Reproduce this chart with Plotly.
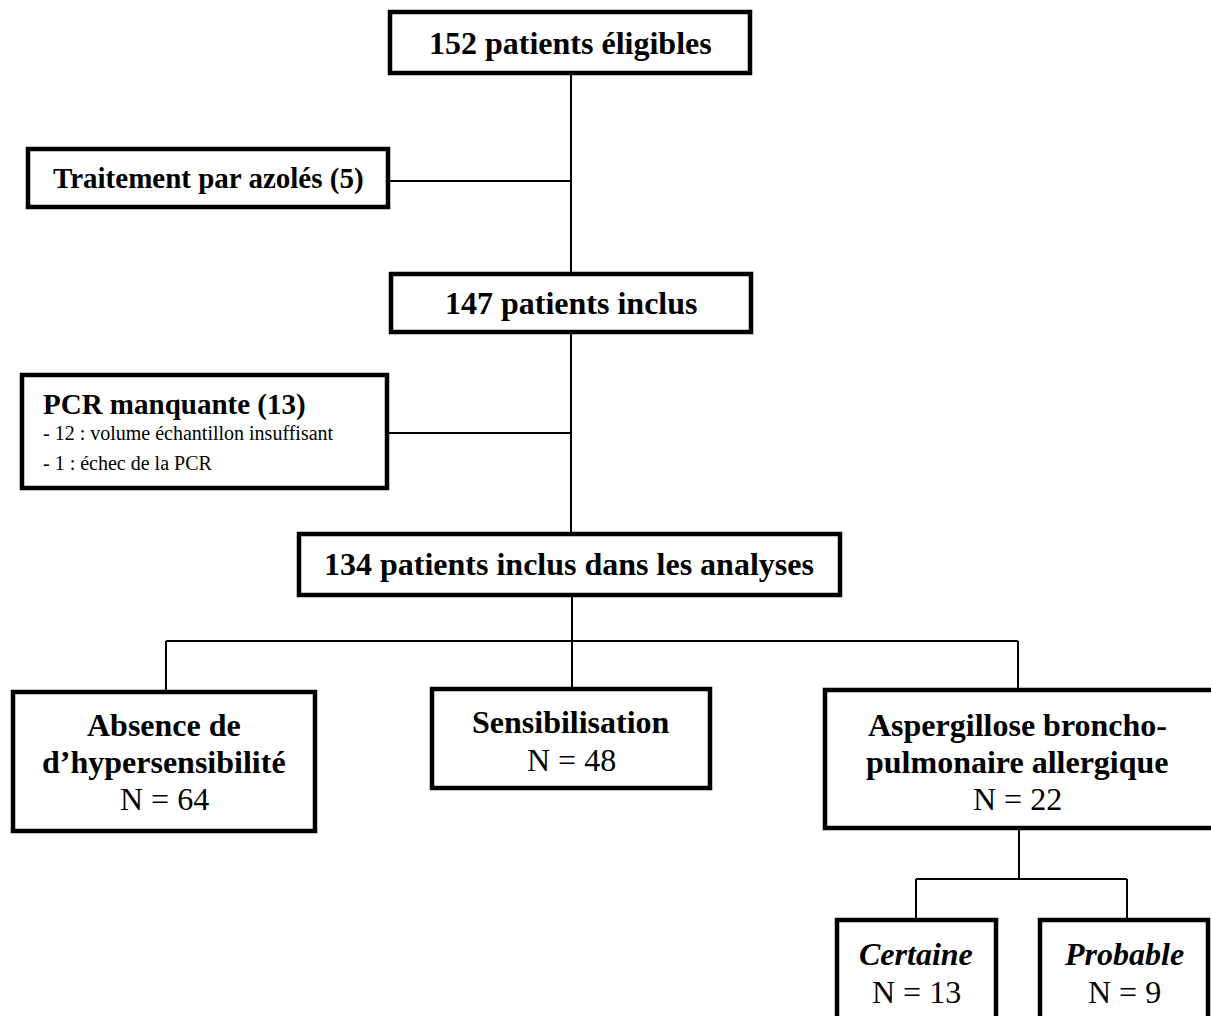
import plotly.graph_objects as go

# flowchart counts
n_eligible = 152
n_azole = 5
n_included = 147
n_pcr_missing = 13
pcr_reasons = ["volume échantillon insuffisant", "échec de la PCR"]
pcr_reason_n = [12, 1]
n_analysed = 134
group_labels = [["Absence de", "d’hypersensibilité"], ["Sensibilisation"],
                ["Aspergillose broncho-", "pulmonaire allergique"]]
group_n = [64, 48, 22]
abpa_labels = ["Certaine", "Probable"]
abpa_n = [13, 9]

W, H = 1211, 1016
FONT = "Liberation Serif, Times New Roman, serif"

# box geometry (x0, y0, x1, y1) in pixel-like coords, y downwards
box_eligible = (390, 12, 750, 73)
box_azole = (28, 149, 388, 207)
box_included = (391, 274, 751, 332)
box_pcr = (22, 375, 387, 488)
box_analysed = (299, 534, 840, 595)
box_groups = [(13, 692, 315, 831), (432, 689, 710, 788), (825, 690, 1216, 828)]
box_abpa = [(837, 920, 996, 1022), (1040, 920, 1208, 1022)]

fig = go.Figure()


def box(b):
    fig.add_shape(type="rect", x0=b[0], y0=b[1], x1=b[2], y1=b[3],
                  line=dict(color="black", width=4.5), fillcolor="white", layer="above")


def seg(x0, y0, x1, y1):
    fig.add_shape(type="line", x0=x0, y0=y0, x1=x1, y1=y1,
                  line=dict(color="black", width=2), layer="below")


def txt(s, x, y, size=32, anchor="center"):
    fig.add_annotation(x=x, y=y, text=s, showarrow=False, xanchor=anchor, yanchor="middle",
                       font=dict(family=FONT, size=size, color="black"))


# connectors
seg(571, 73, 571, 534)
seg(388, 181, 571, 181)
seg(387, 433, 571, 433)
seg(572, 595, 572, 641)
seg(166, 641, 1018, 641)
seg(166, 641, 166, 692)
seg(572, 641, 572, 689)
seg(1018, 641, 1018, 690)
seg(1019, 828, 1019, 879)
seg(916, 879, 1127, 879)
seg(916, 879, 916, 920)
seg(1127, 879, 1127, 920)

# boxes
for b in [box_eligible, box_azole, box_included, box_pcr, box_analysed] + box_groups + box_abpa:
    box(b)

txt(f"<b>{n_eligible} patients éligibles</b>", 570, 43)
txt(f"<b>Traitement par azolés ({n_azole})</b>", 208, 178, size=29)
txt(f"<b>{n_included} patients inclus</b>", 571, 303)
txt(f"<b>{n_analysed} patients inclus dans les analyses</b>", 569, 564)

txt(f"<b>PCR manquante ({n_pcr_missing})</b>", 41, 404, size=29, anchor="left")
for i, (r, n) in enumerate(zip(pcr_reasons, pcr_reason_n)):
    txt(f"- {n} : {r}", 41, 433 + 30 * i, size=20, anchor="left")

group_x = [164, 571, 1017]
group_y0 = [725, 722, 725]
for lbl, n, gx, gy in zip(group_labels, group_n, group_x, group_y0):
    for j, line in enumerate(lbl):
        txt(f"<b>{line}</b>", gx, gy + 37 * j)
    txt(f"N = {n}", gx, gy + 37 * len(lbl) + (0 if len(lbl) == 2 else 1))

abpa_x = [916, 1124]
for lbl, n, ax in zip(abpa_labels, abpa_n, abpa_x):
    txt(f"<b><i>{lbl}</i></b>", ax, 954)
    txt(f"N = {n}", ax, 992)

fig.update_layout(
    width=W, height=H,
    margin=dict(l=0, r=0, t=0, b=0),
    plot_bgcolor="white", paper_bgcolor="white",
    xaxis=dict(range=[0, W], visible=False, fixedrange=True),
    yaxis=dict(range=[H, 0], visible=False, fixedrange=True),
    showlegend=False,
)

# drop the default page margin so the figure sits at the window's corner
fig.write_html("out.html", config={"displayModeBar": False},
               post_script="document.body.style.margin='0';document.body.style.overflow='hidden';")
